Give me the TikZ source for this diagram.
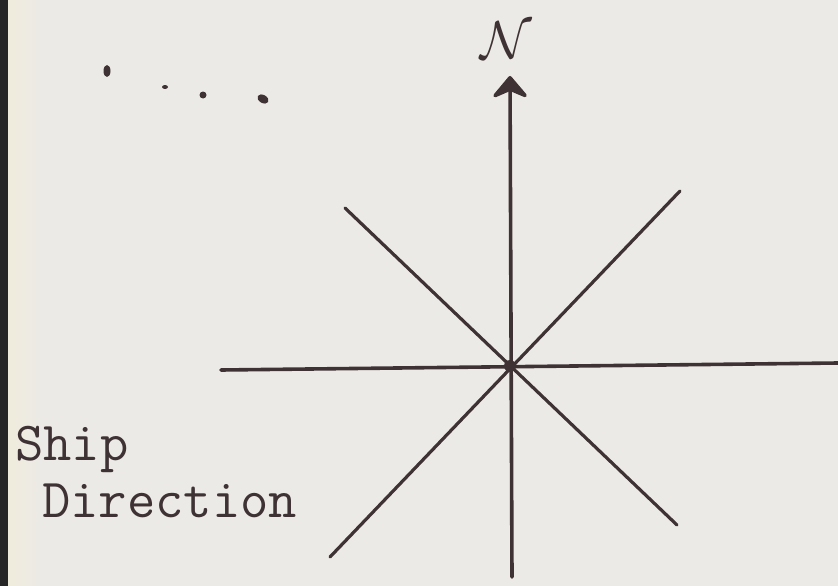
\documentclass[tikz,border=0pt]{standalone}
\usepackage{graphicx}
\usetikzlibrary{arrows.meta}

\definecolor{paper}{RGB}{236,234,230}
\definecolor{edge}{RGB}{240,236,220}
\definecolor{ink}{RGB}{62,50,52}

\begin{document}
\begin{tikzpicture}[x=1pt, y=-1pt,
      line/.style={line width=3.6pt, draw=ink, line cap=round},
      label/.style={font=\fontsize{55}{62}\selectfont\ttfamily, text=ink, anchor=base west, inner sep=0pt}
    ]
  % paper and scanned edge
  \fill[paper] (0,0) rectangle (838,586);
  \fill[left color=edge, right color=paper] (8,0) rectangle (40,586);
  \fill[black!85] (0,0) rectangle (8,586);
  \useasboundingbox (0,0) rectangle (838,586);

  \coordinate (center) at (510,366);
  \coordinate (north) at (510,76);
  \coordinate (south) at (512,577);
  \coordinate (west) at (221,370);
  \coordinate (east) at (838,363);
  \coordinate (northwest) at (345,208);
  \coordinate (northeast) at (680,191);
  \coordinate (southwest) at (330,557);
  \coordinate (southeast) at (677,525);

  \draw[line, -{Stealth[length=25pt, width=42pt, inset=9pt, round]}] (south) -- (north);
  \draw[line] (west) -- (east);
  \draw[line, line width=3.2pt] (northwest) -- (southeast);
  \draw[line, line width=3.2pt] (southwest) -- (northeast);
  \fill[ink] (center) circle (6pt);

  \node[text=ink, inner sep=0pt] (nlabel) at (506,40) {\scalebox{3.7}{\Large$\mathcal{N}$}};

  % stray dots
  \fill[ink] (107,71) ellipse (3.5pt and 6pt);
  \fill[ink] (165,87) ellipse (3pt and 2pt);
  \fill[ink] (203,95) ellipse (3.5pt and 3.5pt);
  \fill[ink, rotate around={-30:(263,99)}] (263,99) ellipse (6pt and 4pt);

  \node[label] (ship) at (15,460) {Ship};
  \node[label] (direction) at (42,517) {Direction};
\end{tikzpicture}
\end{document}
